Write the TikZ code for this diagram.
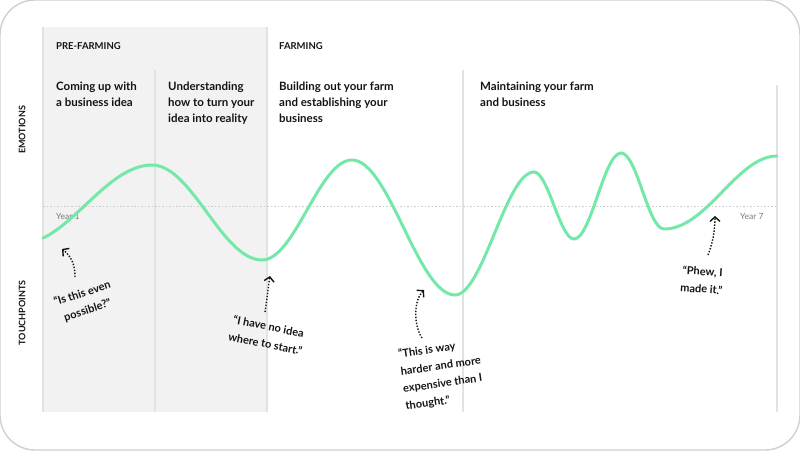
\documentclass[tikz,border=0pt]{standalone}
\usepackage{fontspec}
\setmainfont{Lato}
\usetikzlibrary{arrows.meta}

\definecolor{mint}{HTML}{74E8A8}
\definecolor{bandgray}{HTML}{F2F2F2}
\definecolor{rulegray}{HTML}{E2E2E2}
\definecolor{framegray}{HTML}{CFCFCF}
\definecolor{ink}{HTML}{141414}
\definecolor{muted}{HTML}{7A7A7A}

\tikzset{
  phase/.style={anchor=north west, inner sep=0pt, align=left, text=ink,
    font=\fontsize{11.5}{16}\selectfont\bfseries},
  stage/.style={anchor=base west, inner sep=0pt, text=ink,
    font=\fontsize{9.5}{11}\selectfont\bfseries},
  axislabel/.style={rotate=90, inner sep=0pt, text=ink,
    font=\fontsize{9}{11}\selectfont\bfseries},
  yearlabel/.style={anchor=base west, inner sep=0pt, text=muted,
    font=\fontsize{8.5}{10}\selectfont},
  quote/.style={inner sep=0pt, align=center, text=ink,
    font=\fontsize{11}{17.5}\selectfont\bfseries},
  divider/.style={draw=rulegray, line width=1.5pt},
  emotion/.style={draw=mint, line width=3pt, line cap=round},
  hint/.style={draw=ink, line width=1.4pt, dash pattern=on 1.4pt off 1.6pt,
    -{Straight Barb[length=4.5pt,width=10pt,line width=1.4pt]}}
}

\begin{document}
\begin{tikzpicture}[x=1pt, y=-1pt]
  \useasboundingbox (0,0) rectangle (800,450);
  \draw[draw=framegray, line width=1.4pt, rounded corners=35pt] (0,0) rectangle (800,450);

  % pre-farming band
  \fill[bandgray] (43,27) rectangle (267,412);
  \draw[divider] (43,27) -- (43,412);
  \draw[divider] (155,70) -- (155,412);
  \draw[divider] (267,27) -- (267,412);
  \draw[divider] (463,70) -- (463,412);
  \draw[divider] (777,85) -- (777,412);

  % zero line
  \draw[draw=rulegray!90!black, line width=0.8pt, dash pattern=on 1.5pt off 2pt] (43,206) -- (777,206);

  % headings
  \node[stage] (pre) at (56,49) {PRE-FARMING};
  \node[stage] (farm) at (279,49) {FARMING};
  \node[phase] (idea) at (56,82) {Coming up with\\a business idea};
  \node[phase] (real) at (168,82) {Understanding\\how to turn your\\idea into reality};
  \node[phase] (build) at (279,82) {Building out your farm\\and establishing your\\business};
  \node[phase] (keep) at (480,82) {Maintaining your farm\\and business};

  \node[axislabel] (emo) at (22,130) {EMOTIONS};
  \node[axislabel] (touch) at (22,313) {TOUCHPOINTS};

  \node[yearlabel] (y1) at (56,219) {Year 1};
  \node[yearlabel] (y7) at (740,219) {Year 7};

  % emotion curve
  \draw[emotion] (43,238) .. controls (78,222) and (112,165) .. (152,165)
    .. controls (192,165) and (222,260) .. (262,260)
    .. controls (295,260) and (319,160) .. (352,160)
    .. controls (389,160) and (418,295) .. (455,295)
    .. controls (483,295) and (506,172) .. (534,172)
    .. controls (548,172) and (560,239) .. (574,239)
    .. controls (591,239) and (604,153) .. (621,153)
    .. controls (637,153) and (648,229) .. (664,229)
    .. controls (707,229) and (737,156) .. (777,156);

  % touchpoints
  \node[quote, rotate=18] (q1) at (85,302) {“Is this even\\possible?”};
  \node[quote, rotate=-11] (q2) at (267,335) {“I have no idea\\where to start.”};
  \node[quote, rotate=8, align=left] (q3) at (442,375) {“This is way\\harder and more\\expensive than I\\thought.”};
  \node[quote, rotate=-4] (q4) at (702,280) {“Phew, I\\made it.”};

  \coordinate (t1) at (75,277);
  \coordinate (h1) at (62,249);
  \coordinate (t2) at (265,312);
  \coordinate (h2) at (270,276);
  \coordinate (t3) at (422,338);
  \coordinate (h3) at (424,290);
  \coordinate (t4) at (708,255);
  \coordinate (h4) at (715,216);

  \draw[hint] (t1) .. controls (75,264) and (71,256) .. (h1);
  \draw[hint] (t2) .. controls (267,300) and (268,288) .. (h2);
  \draw[hint] (t3) .. controls (413,324) and (414,300) .. (h3);
  \draw[hint] (t4) .. controls (712,245) and (715,232) .. (h4);
\end{tikzpicture}
\end{document}
